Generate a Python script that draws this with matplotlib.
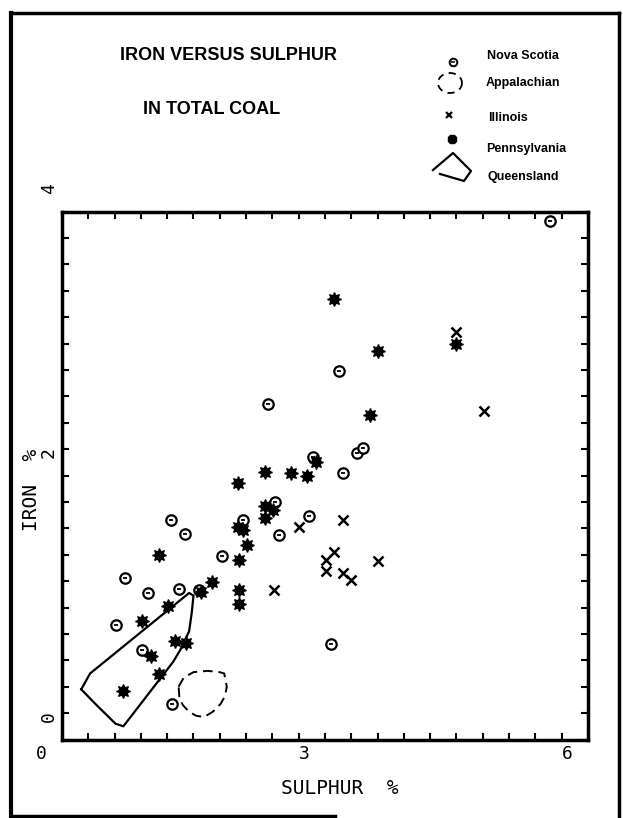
import numpy as np
import matplotlib.pyplot as plt
from matplotlib.ticker import MultipleLocator
from matplotlib.transforms import ScaledTranslation

# values (sulphur %, iron %)
nova_x = [2.86, 3.20, 2.43, 1.24, 2.06, 2.82, 1.40, 2.48, 1.83, 0.72, 0.98, 1.34, 0.62, 0.91, 1.26, 3.07, 5.57, 3.16, 3.37, 3.43, 2.35, 1.56]
nova_y = [2.14, 2.02, 1.80, 1.66, 1.66, 1.69, 1.56, 1.55, 1.39, 1.22, 1.11, 1.14, 0.87, 0.68, 0.27, 0.72, 3.93, 2.79, 2.17, 2.21, 2.54, 1.13]

penn_x = [2.90, 2.31, 2.61, 2.80, 2.01, 2.31, 2.41, 2.31, 2.01, 2.06, 2.11, 1.11, 2.02, 1.71, 1.58, 2.02, 2.02, 1.21, 0.91, 1.29, 1.42, 1.01, 1.11, 0.70, 3.10, 3.61, 4.50, 3.51]
penn_y = [2.10, 2.03, 2.02, 2.00, 1.94, 1.77, 1.74, 1.68, 1.61, 1.59, 1.47, 1.40, 1.36, 1.19, 1.12, 1.13, 1.03, 1.01, 0.90, 0.75, 0.73, 0.63, 0.50, 0.37, 3.34, 2.94, 3.00, 2.46]

ill_x = [2.70, 2.42, 3.01, 3.10, 3.01, 3.20, 3.20, 3.30, 3.60, 4.50, 4.81]
ill_y = [1.61, 1.13, 1.36, 1.42, 1.28, 1.66, 1.26, 1.21, 1.35, 3.09, 2.49]

# outline of the Queensland field (solid) and the Appalachian field (dashed)
qld_x = [0.22, 0.32, 1.45, 1.50, 1.48, 1.45, 1.35, 1.27, 0.70, 0.61, 0.38, 0.22]
qld_y = [0.38, 0.50, 1.11, 1.09, 0.96, 0.82, 0.68, 0.59, 0.10, 0.12, 0.27, 0.38]
app_x = [1.33, 1.39, 1.50, 1.66, 1.80, 1.85, 1.88, 1.86, 1.81, 1.72, 1.62, 1.53, 1.45, 1.38, 1.34, 1.33]
app_y = [0.40, 0.47, 0.51, 0.52, 0.51, 0.50, 0.40, 0.33, 0.27, 0.21, 0.17, 0.18, 0.21, 0.26, 0.31, 0.40]

xticks = [0, 3, 6]
yticks = [0, 2, 4]

W, H = 623, 818
fig = plt.figure(figsize=(W / 100, H / 100), dpi=100)
ax = fig.add_axes([62 / W, 1 - 739.5 / H, 526 / W, 528 / H])

mono = 'DejaVu Sans Mono'

ax.plot(nova_x, nova_y, 'o', ms=7.5, mfc='white', mec='black', mew=1.6, zorder=3)
ax.plot(nova_x, nova_y, '_', ms=3.5, color='black', mew=1.3, zorder=4)
ax.plot(penn_x, penn_y, '8', ls='none', ms=7, color='black', zorder=5)
ax.plot(penn_x, penn_y, marker=(8, 1, 0), ls='none', ms=10, color='black', zorder=5)
ax.plot(ill_x, ill_y, 'x', ms=7, color='black', mew=1.8, zorder=5)
ax.plot(qld_x, qld_y, '-', color='black', lw=1.6, zorder=2)
ax.plot(app_x, app_y, color='black', lw=1.4, ls=(0, (5, 3)), zorder=2)

ax.set_xlim(0, 6)
ax.set_ylim(0, 4)
ax.set_xticks(xticks)
ax.set_yticks(yticks)
ax.xaxis.set_minor_locator(MultipleLocator(0.3))
ax.yaxis.set_minor_locator(MultipleLocator(0.2))
ax.tick_params(which='both', direction='in', length=5, width=1.5, top=True, right=True)
ax.tick_params(axis='x', labelsize=13, pad=4)
ax.tick_params(axis='y', labelsize=13, pad=3, labelrotation=90)
for sp in ax.spines.values():
    sp.set_linewidth(2.5)
for lab in ax.get_xticklabels():
    lab.set_fontfamily(mono)
    lab.set_transform(lab.get_transform() + ScaledTranslation(-0.21, 0, fig.dpi_scale_trans))
for lab in ax.get_yticklabels():
    lab.set_fontfamily(mono)
    lab.set_transform(lab.get_transform() + ScaledTranslation(0, 0.21, fig.dpi_scale_trans))

ax.set_xlabel('SULPHUR  %', fontsize=14, family=mono)
ax.xaxis.set_label_coords(0.528, -0.075)
ax.set_ylabel('IRON  %', fontsize=14, family=mono)
ax.yaxis.set_label_coords(-0.04, 0.472)

# overlay in pixel units for the heading, legend key and outer frame
ov = fig.add_axes([0, 0, 1, 1], zorder=-1)
ov.set_xlim(0, W)
ov.set_ylim(H, 0)
ov.axis('off')

ov.text(229, 55, 'IRON VERSUS SULPHUR', fontsize=13, fontweight='bold',
        family='Liberation Sans', ha='center', va='center')
ov.text(212, 110, 'IN TOTAL COAL', fontsize=13, fontweight='bold',
        family='Liberation Sans', ha='center', va='center')

lab_kw = dict(fontsize=9, fontweight='bold', family='Liberation Sans', va='center', ha='left')
ov.text(487, 56, 'Nova Scotia', **lab_kw)
ov.text(486, 83, 'Appalachian', **lab_kw)
ov.text(488, 118, 'Illinois', **lab_kw)
ov.text(486, 149, 'Pennsylvania', **lab_kw)
ov.text(487, 177, 'Queensland', **lab_kw)

ov.plot([453], [62], 'o', ms=5.5, mfc='white', mec='black', mew=1.4)
ov.plot([453], [62], '_', ms=2.5, color='black', mew=1.1)
t = np.linspace(0, 2 * np.pi, 40)
ov.plot(450 + 12 * np.cos(t), 83 + 10 * np.sin(t), color='black', lw=1.3, ls=(0, (4, 3)))
ov.plot([449], [115], 'x', ms=5, color='black', mew=1.6)
ov.plot([452], [139], '8', ms=6, color='black')
ov.plot([433, 453, 471, 464, 440], [170, 153, 171, 181, 174], color='black', lw=1.6)

ov.plot([11, 11], [13, 816], color='black', lw=3)
ov.plot([11, 619], [13, 13], color='black', lw=2.5)
ov.plot([619, 619], [13, 816], color='black', lw=2.5)
ov.plot([11, 335], [816, 816], color='black', lw=2.5)

fig.savefig('out.png', dpi=100)
